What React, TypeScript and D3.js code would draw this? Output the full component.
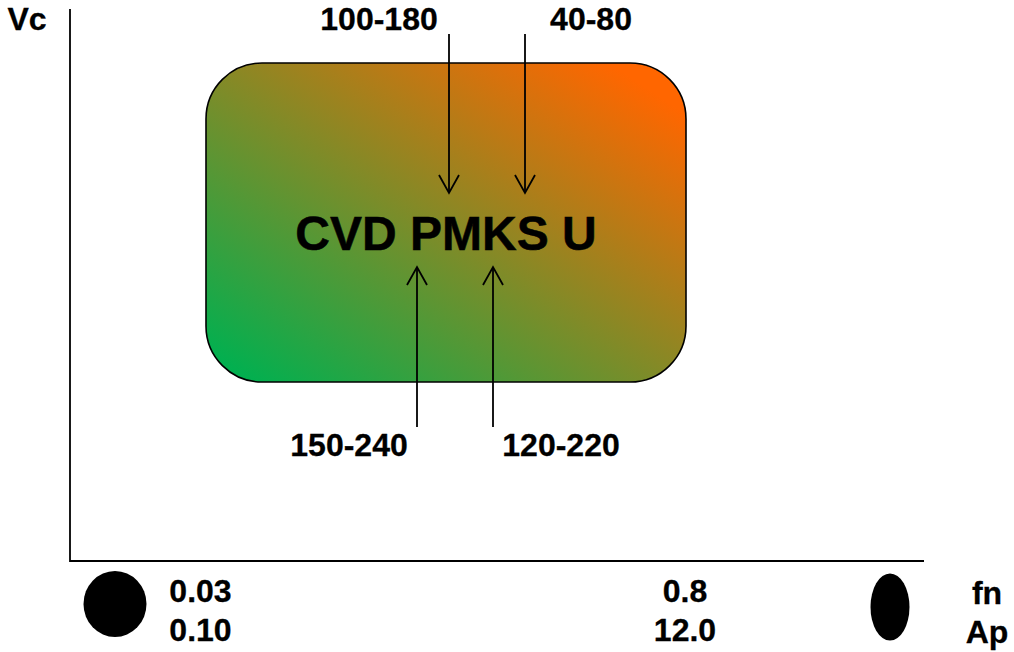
import React from "react";
import * as d3 from "d3";

const xDomain = [0, 1014];
const yDomain = [0, 652];
const rangeLabels = [
  { text: "100-180", x: 379, y: 18.5 },
  { text: "40-80", x: 591, y: 18.5 },
  { text: "150-240", x: 349, y: 444.5 },
  { text: "120-220", x: 561, y: 444.5 },
];
const arrows = [
  { x: 449, y0: 34, y1: 193 },
  { x: 525, y0: 34, y1: 193 },
  { x: 417, y0: 427, y1: 267 },
  { x: 493, y0: 427, y1: 267 },
];
const bottomLabels = [
  { text: "0.03", x: 200.5, y: 590.5 },
  { text: "0.10", x: 200.5, y: 629.5 },
  { text: "0.8", x: 685, y: 590.5 },
  { text: "12.0", x: 685, y: 629.5 },
  { text: "fn", x: 987, y: 592.5 },
  { text: "Ap", x: 987, y: 631.5 },
  { text: "Vc", x: 27, y: 18.5 },
];

export default function App() {
  const x = d3.scaleLinear().domain(xDomain).range([0, 1014]);
  const y = d3.scaleLinear().domain(yDomain).range([0, 652]);
  const font = "Liberation Sans, Arial, sans-serif";
  return (
    <svg width={1014} height={652} style={{ position: "fixed", left: 0, top: 0, background: "#fff" }}>
      <defs>
        <linearGradient id="g" x1={0} y1={1} x2={1} y2={0}>
          <stop offset="0.04" stopColor="#00b050" />
          <stop offset="0.92" stopColor="#ff6600" />
        </linearGradient>
      </defs>
      <path d={`M${x(70)},${y(9)}V${y(561)}H${x(924)}`} fill="none" stroke="#000" strokeWidth={1.8} />
      <rect x={x(206)} y={y(63)} width={x(686) - x(206)} height={y(382) - y(63)} rx={56} ry={56} fill="url(#g)" stroke="#000" strokeWidth={1.6} />
      {arrows.map((a, i) => {
        const d = a.y1 > a.y0 ? -1 : 1;
        return (
          <g key={i} fill="none" stroke="#000" strokeWidth={1.8}>
            <line x1={x(a.x)} x2={x(a.x)} y1={y(a.y0)} y2={y(a.y1)} />
            <path d={`M${x(a.x) - 10},${y(a.y1) + d * 18}L${x(a.x)},${y(a.y1)}L${x(a.x) + 10},${y(a.y1) + d * 18}`} />
          </g>
        );
      })}
      <text x={x(446)} y={y(233.5)} textAnchor="middle" dominantBaseline="central" fontFamily={font} fontWeight={700} fontSize={48} fill="#000" stroke="#000" strokeWidth={0.5}>CVD PMKS U</text>
      {[...rangeLabels, ...bottomLabels].map((l, i) => (
        <text key={i} x={x(l.x)} y={y(l.y)} textAnchor="middle" dominantBaseline="central" fontFamily={font} fontWeight={700} fontSize={32} fill="#000" stroke="#000" strokeWidth={0.3}>{l.text}</text>
      ))}
      <ellipse cx={x(115)} cy={y(604)} rx={31.5} ry={33} fill="#000" />
      <ellipse cx={x(890)} cy={y(607)} rx={19.5} ry={33.5} fill="#000" />
    </svg>
  );
}
